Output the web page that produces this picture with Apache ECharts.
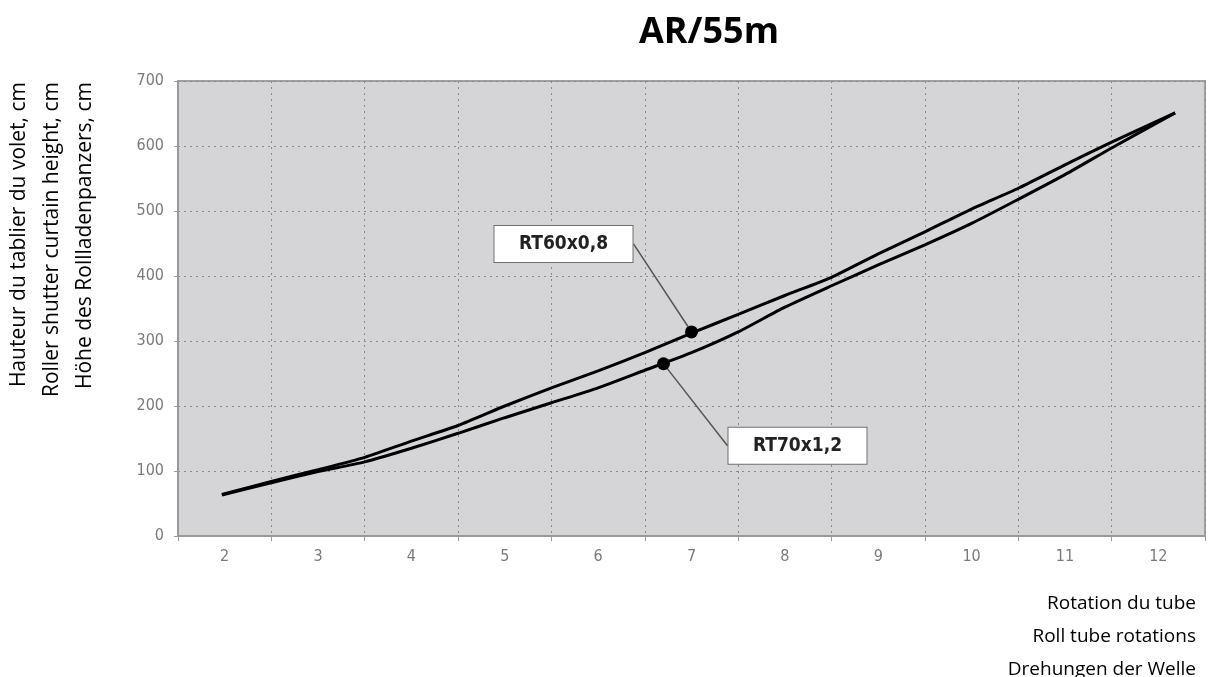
<!DOCTYPE html>
<html>
<head>
<meta charset="utf-8">
<script src="https://cdn.jsdelivr.net/npm/echarts@6/dist/echarts.min.js"></script>
<style>html,body{margin:0;padding:0;background:#fff;}#c{width:1210px;height:677px;}</style>
</head>
<body>
<div id="c"></div>
<script>
// ---- data ----
var titleText = 'AR/55m';
var categories = ['2','3','4','5','6','7','8','9','10','11','12'];
var yTicks = [0, 100, 200, 300, 400, 500, 600, 700];
var yTitleLines = ['Hauteur du tablier du volet, cm', 'Roller shutter curtain height, cm', 'Höhe des Rollladenpanzers, cm'];
var xTitleLines = ['Rotation du tube', 'Roll tube rotations', 'Drehungen der Welle'];
var rt60Name = 'RT60x0,8';
var rt70Name = 'RT70x1,2';
var rt60X = [1.97, 2.5, 3.0, 3.5, 4.0, 4.5, 5.0, 5.5, 6.0, 6.5, 7.0, 7.5, 8.0, 8.5, 9.0, 9.5, 10.0, 10.5, 11.0, 11.5, 12.18];
var rt60Y = [64, 84, 102, 121, 146, 170, 200, 228, 254, 282, 312, 341, 370, 398, 434, 468, 503, 535, 571, 606, 651];
var rt70X = [1.97, 2.5, 3.0, 3.5, 4.0, 4.5, 5.0, 5.5, 6.0, 6.5, 7.0, 7.5, 8.0, 8.5, 9.0, 9.5, 10.0, 10.5, 11.0, 11.5, 12.18];
var rt70Y = [63, 82, 99, 114, 135, 158, 182, 205, 228, 255, 282, 314, 352, 385, 417, 448, 481, 518, 556, 597, 651];
var rt60Marker = [7.0, 314];
var rt70Marker = [6.7, 265];

function pairs(xs, ys) { return xs.map(function (x, i) { return [x, ys[i]]; }); }

var chart = echarts.init(document.getElementById('c'), null, { renderer: 'canvas' });
var gridLine = { show: true, lineStyle: { color: '#8a8a8a', width: 1, type: [2, 4] } };
var tickFont = { color: '#7a7a7a', fontSize: 16, fontFamily: 'DejaVu Sans Condensed' };
var labelOffsets = [[-128, -88], [134, 82]];

chart.setOption({
  animation: false,
  backgroundColor: '#ffffff',
  title: {
    text: titleText, left: 704, top: 10, textAlign: 'center',
    textStyle: { fontSize: 36, fontWeight: 'bold', fontFamily: 'Open Sans', color: '#000' }
  },
  grid: { left: 178, right: 5, top: 81, bottom: 141, show: true, backgroundColor: '#d5d5d7', borderColor: '#a0a0a0', borderWidth: 2 },
  xAxis: [{
    type: 'category', data: categories, boundaryGap: true,
    axisLine: { show: true, lineStyle: { color: '#9a9a9a', width: 2 } },
    axisTick: { show: true, length: 5, lineStyle: { color: '#9a9a9a' } },
    axisLabel: Object.assign({ margin: 13 }, tickFont),
    splitLine: gridLine
  }, {
    type: 'value', min: 1.5, max: 12.5, show: false
  }],
  yAxis: {
    type: 'value', min: yTicks[0], max: yTicks[yTicks.length - 1], interval: 100,
    axisLine: { show: true, lineStyle: { color: '#9a9a9a', width: 2 } },
    axisTick: { show: true, length: 4, lineStyle: { color: '#9a9a9a' } },
    axisLabel: Object.assign({ margin: 14 }, tickFont),
    splitLine: gridLine
  },
  graphic: [{
    type: 'text', x: 3, y: 82, rotation: Math.PI / 2,
    style: { text: yTitleLines.join('\n'), align: 'right', verticalAlign: 'top', lineHeight: 33, fontSize: 21, fontFamily: 'Open Sans', fill: '#000' }
  }, {
    type: 'text', x: 1196, y: 587,
    style: { text: xTitleLines.join('\n'), align: 'right', verticalAlign: 'top', lineHeight: 33, fontSize: 19, fontFamily: 'Open Sans', fill: '#000' }
  }],
  series: [{
    name: rt60Name, type: 'line', xAxisIndex: 1, data: pairs(rt60X, rt60Y),
    showSymbol: false, smooth: 0.2, lineStyle: { color: '#000', width: 3 }, z: 3
  }, {
    name: rt70Name, type: 'line', xAxisIndex: 1, data: pairs(rt70X, rt70Y),
    showSymbol: false, smooth: 0.2, lineStyle: { color: '#000', width: 3 }, z: 3
  }, {
    type: 'scatter', xAxisIndex: 1, symbolSize: 13, itemStyle: { color: '#000', opacity: 1 }, z: 5,
    data: [
      { value: rt60Marker, name: rt60Name },
      { value: rt70Marker, name: rt70Name }
    ],
    label: {
      show: true, position: 'inside', formatter: '{b}',
      backgroundColor: '#fff', borderColor: '#707070', borderWidth: 1,
      width: 138, height: 18, padding: [9, 0], align: 'center', verticalAlign: 'middle',
      color: '#222', fontSize: 19, fontWeight: 'bold', fontFamily: 'DejaVu Sans Condensed'
    },
    labelLine: { show: true, lineStyle: { color: '#555', width: 1.5 } },
    labelLayout: function (p) {
      var o = labelOffsets[p.dataIndex];
      return { dx: o[0], dy: o[1] };
    }
  }]
});
</script>
</body>
</html>
